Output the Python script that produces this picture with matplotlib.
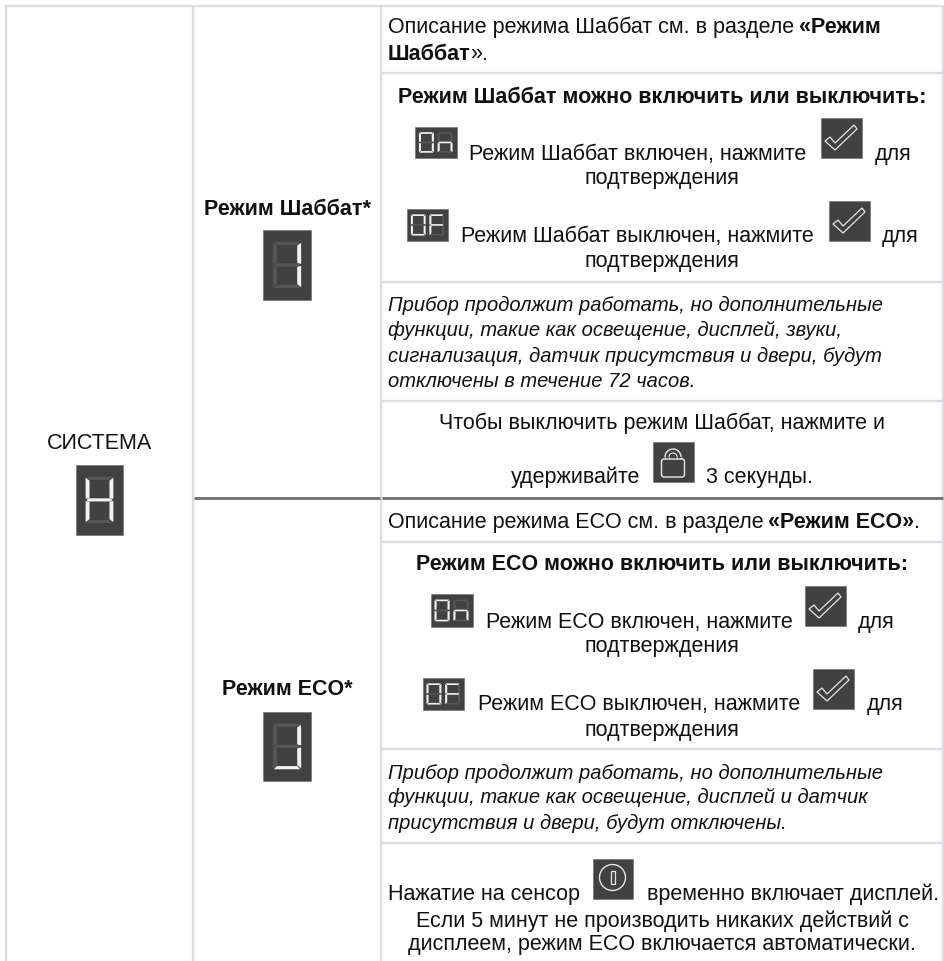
import matplotlib
matplotlib.use('Agg')
import matplotlib.pyplot as plt
from matplotlib.patches import Rectangle, Polygon, Circle, FancyBboxPatch, Arc

FS = 15.5
FS_ITALIC = 14.5
GRID = '#dddee1'
THICK = '#777777'
ICON = '#414141'
LIT = '#f2f2f2'
DIM = '#565656'

# table rules, in pixels of the page
col_lines = [5.5, 192.5, 380.5, 942.5]
top_line = 5.5
right_rows_top = [72.7, 281.8, 401, 541.8, 749, 843]
thick_row = 498

# (x, baseline, text, weight, style)
left_runs = [
    (387.5, 33, 'Описание режима Шаббат см. в разделе', 'normal', 'normal'),
    (469, 160, 'Режим Шаббат включен, нажмите', 'normal', 'normal'),
    (875, 160, 'для', 'normal', 'normal'),
    (461, 242, 'Режим Шаббат выключен, нажмите', 'normal', 'normal'),
    (882, 242, 'для', 'normal', 'normal'),
    (387.5, 311, 'Прибор продолжит работать, но дополнительные', 'normal', 'italic'),
    (387.5, 336, 'функции, такие как освещение, дисплей, звуки,', 'normal', 'italic'),
    (387.5, 362, 'сигнализация, датчик присутствия и двери, будут', 'normal', 'italic'),
    (387.5, 387, 'отключены в течение 72 часов.', 'normal', 'italic'),
    (510.5, 483, 'удерживайте', 'normal', 'normal'),
    (706.5, 483, '3 секунды.', 'normal', 'normal'),
    (387.5, 528, 'Описание режима ECO см. в разделе', 'normal', 'normal'),
    (485.5, 628, 'Режим ECO включен, нажмите', 'normal', 'normal'),
    (858, 628, 'для', 'normal', 'normal'),
    (477.5, 710, 'Режим ECO выключен, нажмите', 'normal', 'normal'),
    (866.5, 710, 'для', 'normal', 'normal'),
    (387.5, 779, 'Прибор продолжит работать, но дополнительные', 'normal', 'italic'),
    (387.5, 803, 'функции, такие как освещение, дисплей и датчик', 'normal', 'italic'),
    (387.5, 829, 'присутствия и двери, будут отключены.', 'normal', 'italic'),
    (387.5, 900, 'Нажатие на сенсор', 'normal', 'normal'),
    (647, 900, 'временно включает дисплей.', 'normal', 'normal'),
]
# (x centre, baseline, text, weight)
center_runs = [
    (662, 103, 'Режим Шаббат можно включить или выключить:', 'bold'),
    (662, 184, 'подтверждения', 'normal'),
    (662, 267, 'подтверждения', 'normal'),
    (662, 429, 'Чтобы выключить режим Шаббат, нажмите и', 'normal'),
    (662, 570, 'Режим ECO можно включить или выключить:', 'bold'),
    (662, 652, 'подтверждения', 'normal'),
    (662, 736, 'подтверждения', 'normal'),
    (662, 927, 'Если 5 минут не производить никаких действий с', 'normal'),
    (662, 950, 'дисплеем, режим ECO включается автоматически.', 'normal'),
    (99.5, 449, 'СИСТЕМА', 'normal'),
    (287, 215, 'Режим Шаббат*', 'bold'),
    (287, 695, 'Режим ECO*', 'bold'),
]

# seven segment icons: (x0, y0, x1, y1, lit segments per digit)
digit_icons = [
    (76, 465, 123, 535, ['bcefg']),
    (263, 230, 311, 300, ['bc']),
    (263, 712, 311, 781, ['bcd']),
    (415, 127, 456.5, 158, ['abcdef', 'ceg']),
    (407, 209, 448, 241, ['abcdef', 'aefg']),
    (430.5, 594, 472.5, 627, ['abcdef', 'ceg']),
    (422.5, 678, 464, 710, ['abcdef', 'aefg']),
]
check_icons = [(821, 118), (829, 201), (805, 586), (813, 669)]
lock_icon = (653, 442)
power_icon = (592.5, 859)
ICON_W, ICON_H = 40.5, 40

plt.rcParams['font.family'] = ['Liberation Sans', 'DejaVu Sans']

fig = plt.figure(figsize=(9.45, 9.61), dpi=100)
ax = fig.add_axes([0, 0, 1, 1])
ax.set_xlim(0, 945)
ax.set_ylim(961, 0)
ax.axis('off')


def put(x, y, s, weight='normal', style='normal', ha='left'):
    size = FS_ITALIC if style == 'italic' else FS
    return ax.text(x, y, s, fontsize=size, weight=weight, style=style, ha=ha, va='baseline',
                   color='#111111', zorder=5)


def after(t, gap=0):
    # x pixel where a text ends, to continue a mixed bold/regular line
    bb = t.get_window_extent(fig.canvas.get_renderer())
    return bb.x1 + gap


def segments(x0, y0, x1, y1):
    w = x1 - x0
    t = w * 0.14
    m = (y0 + y1) / 2
    g = t * 0.25
    return {
        'a': [(x0 + g, y0), (x1 - g, y0), (x1 - t, y0 + t * 0.8), (x0 + t, y0 + t * 0.8)],
        'd': [(x0 + t, y1 - t * 0.8), (x1 - t, y1 - t * 0.8), (x1 - g, y1), (x0 + g, y1)],
        'g': [(x0 + t * 0.7, m - t * 0.4), (x1 - t * 0.7, m - t * 0.4), (x1 - g, m),
              (x1 - t * 0.7, m + t * 0.4), (x0 + t * 0.7, m + t * 0.4), (x0 + g, m)],
        'f': [(x0, y0 + g), (x0 + t, y0 + t), (x0 + t, m - t * 0.5), (x0, m - g)],
        'e': [(x0, m + g), (x0 + t, m + t * 0.5), (x0 + t, y1 - t), (x0, y1 - g)],
        'b': [(x1, y0 + g), (x1 - t, y0 + t), (x1 - t, m - t * 0.5), (x1, m - g)],
        'c': [(x1, m + g), (x1 - t, m + t * 0.5), (x1 - t, y1 - t), (x1, y1 - g)],
    }


def digit_icon(x0, y0, x1, y1, digits):
    ax.add_patch(Rectangle((x0, y0), x1 - x0, y1 - y0, fc=ICON, ec='#6a6a6a', lw=0.4, zorder=3))
    w = x1 - x0
    h = y1 - y0
    n = len(digits)
    dw = w * (0.59 if n == 1 else 0.36)
    gap = w * 0.09
    start = x0 + (w - n * dw - (n - 1) * gap) / 2
    for i, lit in enumerate(digits):
        dx = start + i * (dw + gap)
        seg = segments(dx, y0 + h * 0.167, dx + dw, y0 + h * 0.83)
        for name, pts in seg.items():
            ax.add_patch(Polygon(pts, closed=True, fc=LIT if name in lit else DIM, ec='none', zorder=4))


def check_icon(x, y):
    ax.add_patch(Rectangle((x, y), ICON_W, ICON_H, fc=ICON, ec='#6a6a6a', lw=0.4, zorder=3))
    pts = [(x + 4, y + 23), (x + 9, y + 19), (x + 14, y + 25), (x + 33, y + 7), (x + 36, y + 11),
           (x + 14, y + 32)]
    ax.add_patch(Polygon(pts, closed=True, fc='none', ec='#e6e6e6', lw=0.9, zorder=4))


def lock(x, y):
    ax.add_patch(Rectangle((x, y), ICON_W, ICON_H, fc=ICON, ec='#6a6a6a', lw=0.4, zorder=3))
    ax.add_patch(FancyBboxPatch((x + 8.5, y + 17), 23, 18, boxstyle='round,pad=0,rounding_size=2.5',
                                fc='none', ec='#e6e6e6', lw=1.0, zorder=4))
    for r, lw in [(8, 1.0), (4, 0.8)]:
        ax.add_patch(Arc((x + 20, y + 15), 2 * r, 2 * r, theta1=180, theta2=360, ec='#e6e6e6', lw=lw, zorder=4))
    ax.vlines([x + 12, x + 28], y + 15, y + 17, color='#e6e6e6', lw=1.0, zorder=4)
    ax.vlines([x + 16, x + 24], y + 15, y + 17, color='#e6e6e6', lw=0.8, zorder=4)


def power(x, y):
    ax.add_patch(Rectangle((x, y), ICON_W, ICON_H, fc=ICON, ec='#6a6a6a', lw=0.4, zorder=3))
    ax.add_patch(Circle((x + 20, y + 18.5), 13, fc='none', ec='#e6e6e6', lw=1.0, zorder=4))
    ax.add_patch(Rectangle((x + 18, y + 12), 4, 13, fc='none', ec='#e6e6e6', lw=0.9, zorder=4))


# rules
LW = 2.4 * 0.72
ax.hlines(top_line, col_lines[0] - 1, col_lines[3] + 1, color=GRID, lw=LW)
ax.vlines(col_lines, top_line, 961, color=GRID, lw=LW)
ax.hlines(right_rows_top, col_lines[2] + 1, col_lines[3], color=GRID, lw=LW)
ax.hlines(thick_row, col_lines[1] + 1.5, col_lines[2] - 1, color=THICK, lw=3 * 0.72, zorder=2)
ax.hlines(thick_row, col_lines[2] + 1, col_lines[3], color=THICK, lw=3 * 0.72, zorder=2)

# text
for x, y, s, w, st in left_runs:
    put(x, y, s, w, st)
for x, y, s, w in center_runs:
    put(x, y, s, w, ha='center')

fig.canvas.draw()
# mixed bold lines
put(799, 33, '«Режим', 'bold')
t = put(387.5, 60, 'Шаббат', 'bold')
put(after(t), 60, '».')
t = put(768, 528, '«Режим ECO»', 'bold')
put(after(t), 528, '.')

# icons
for x0, y0, x1, y1, digits in digit_icons:
    digit_icon(x0, y0, x1, y1, digits)
for x, y in check_icons:
    check_icon(x, y)
lock(*lock_icon)
power(*power_icon)

fig.savefig('out.png', dpi=100)
